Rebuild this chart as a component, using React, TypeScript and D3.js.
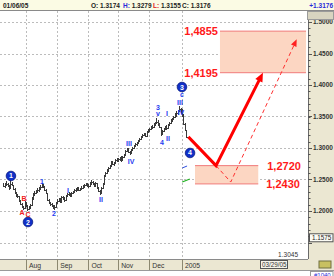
import React from 'react';
import * as d3 from 'd3';

// ---- daily EUR/USD bars (Jul 9 2004 .. Jan 6 2005) ----
const closes = [1.2397,
1.2413,1.2429,1.2397,1.2365,1.2429,
1.2413,1.2349,1.2286,1.2254,1.2238,
1.2159,1.2111,1.2063,1.2048,1.2143,
1.2079,1.2032,1.2048,1.2095,1.2190,
1.2270,1.2286,1.2317,1.2333,1.2349,
1.2381,1.2413,1.2381,1.2333,1.2286,
1.2175,1.2127,1.2111,1.2079,1.2063,
1.2063,1.2127,1.2159,1.2175,1.2143,
1.2222,1.2190,1.2175,1.2238,1.2270,
1.2270,1.2254,1.2286,1.2302,1.2333,
1.2333,1.2365,1.2333,1.2349,1.2365,
1.2381,1.2413,1.2429,1.2413,1.2397,
1.2444,1.2460,1.2429,1.2397,1.2444,
1.2365,1.2317,1.2286,1.2365,1.2429,
1.2556,1.2603,1.2635,1.2683,1.2714,
1.2778,1.2746,1.2762,1.2810,1.2794,
1.2825,1.2841,1.2810,1.2857,1.2889,
1.2952,1.2984,1.2937,1.2921,1.2968,
1.3000,1.3032,1.3063,1.3079,1.3111,
1.3143,1.3175,1.3206,1.3222,1.3190,
1.3254,1.3286,1.3302,1.3333,1.3333,
1.3365,1.3397,1.3413,1.3381,1.3333,
1.3222,1.3270,1.3302,1.3333,1.3317,
1.3365,1.3397,1.3444,1.3460,1.3492,
1.3508,1.3556,1.3587,1.3619,1.3571,
1.3524,1.3381,1.3286,1.3176];

const highs = [1.2440,
1.2445,1.2470,1.2440,1.2410,1.2490,
1.2455,1.2420,1.2360,1.2300,1.2275,
1.2240,1.2170,1.2125,1.2085,1.2160,
1.2150,1.2095,1.2075,1.2110,1.2215,
1.2290,1.2315,1.2340,1.2360,1.2380,
1.2405,1.2445,1.2430,1.2395,1.2345,
1.2280,1.2190,1.2150,1.2130,1.2100,
1.2090,1.2140,1.2185,1.2210,1.2200,
1.2245,1.2240,1.2215,1.2255,1.2290,
1.2305,1.2290,1.2300,1.2325,1.2350,
1.2360,1.2385,1.2380,1.2370,1.2390,
1.2405,1.2430,1.2450,1.2445,1.2430,
1.2465,1.2485,1.2475,1.2440,1.2460,
1.2440,1.2375,1.2330,1.2380,1.2445,
1.2570,1.2625,1.2660,1.2700,1.2735,
1.2795,1.2800,1.2785,1.2830,1.2835,
1.2845,1.2865,1.2870,1.2875,1.2910,
1.2970,1.3005,1.2995,1.2960,1.2985,
1.3020,1.3050,1.3080,1.3100,1.3130,
1.3160,1.3195,1.3225,1.3245,1.3240,
1.3275,1.3305,1.3325,1.3350,1.3370,
1.3390,1.3420,1.3470,1.3440,1.3400,
1.3340,1.3290,1.3325,1.3355,1.3360,
1.3385,1.3420,1.3460,1.3480,1.3510,
1.3560,1.3580,1.3610,1.3667,1.3640,
1.3620,1.3540,1.3400,1.3279];

const lows = [1.2375,
1.2370,1.2395,1.2380,1.2340,1.2355,
1.2390,1.2330,1.2270,1.2230,1.2205,
1.2140,1.2095,1.2040,1.2010,1.2035,
1.2060,1.2000,1.2010,1.2030,1.2080,
1.2180,1.2245,1.2265,1.2290,1.2300,
1.2330,1.2365,1.2360,1.2315,1.2265,
1.2160,1.2105,1.2085,1.2060,1.2035,
1.2020,1.2050,1.2110,1.2140,1.2120,
1.2135,1.2170,1.2150,1.2165,1.2220,
1.2240,1.2225,1.2230,1.2265,1.2280,
1.2300,1.2315,1.2310,1.2315,1.2330,
1.2345,1.2365,1.2390,1.2385,1.2370,
1.2390,1.2420,1.2405,1.2375,1.2380,
1.2345,1.2295,1.2260,1.2275,1.2355,
1.2430,1.2540,1.2590,1.2620,1.2670,
1.2710,1.2725,1.2715,1.2750,1.2770,
1.2770,1.2800,1.2785,1.2800,1.2840,
1.2880,1.2935,1.2915,1.2895,1.2910,
1.2950,1.2985,1.3015,1.3035,1.3060,
1.3090,1.3125,1.3160,1.3185,1.3170,
1.3190,1.3235,1.3260,1.3280,1.3300,
1.3315,1.3350,1.3375,1.3350,1.3310,
1.3185,1.3200,1.3250,1.3280,1.3290,
1.3300,1.3350,1.3380,1.3415,1.3440,
1.3470,1.3500,1.3530,1.3570,1.3540,
1.3500,1.3360,1.3270,1.3155];

const firstDate = new Date(2004, 6, 9);
const priceTicks = [1.5, 1.45, 1.4, 1.35, 1.3, 1.25, 1.2, 1.15];
const headerDate = '01/06/05';
const headerOHLC = [1.3174, 1.3279, 1.3155, 1.3176];
const cursorDate = '03/29/05';
const cursorPrice = 1.3045;
const lowPriceTag = 1.1575;
const chartId = '#1040';

// target zones (bar-index extent, price bounds)
const zoneHigh = [1.4855, 1.4195];
const zoneLow = [1.2720, 1.2430];
const zoneHighSpan = [152.8, 213.5];
const zoneLowSpan = [135.2, 179.8];

// projected paths [barIndex, price]
const mainProjection = [[130.5, 1.3176], [150, 1.2720], [183.1, 1.4195]];
const altProjection = [[150, 1.2720], [160.4, 1.2460], [206.9, 1.4725]];

// small indicator stubs at the end of the data
const blueStub = [[126.2, 1.2683], [129.6, 1.2714]];
const greenStub = [[126.2, 1.2460], [131.5, 1.2508]];

// Elliott wave labels [barIndex, price, text]
const waveCircles = [[5.4, 1.2556, '1'], [17.4, 1.1825, '2'], [126.0, 1.3968, '3'], [131.7, 1.2921, '4']];
const blueLabels = [
  [27.3, 1.2460, '1'], [35.8, 1.1952, '2'], [45.6, 1.2317, 'I'], [68.9, 1.2175, 'II'],
  [88.6, 1.3063, 'III'], [90.1, 1.2778, 'IV'], [109.1, 1.3635, '3'], [109.1, 1.3540, 'v'],
  [111.9, 1.3079, '4'], [115.4, 1.3540, 'I'], [116.1, 1.3143, 'II'],
  [126.0, 1.3841, 'c'], [124.6, 1.3714, 'III'], [125.3, 1.3560, 'IV'],
];
const redLabels = [[13.2, 1.1968, 'A'], [14.6, 1.2190, 'B'], [17.4, 1.1937, 'C']];

const W = 334, H = 276;
const PLOT_R = 308, PLOT_T = 11, PLOT_B = 259;
const BEIGE = '#ebe7d2';
const FONT = 'Liberation Sans, Arial, sans-serif';
const WAVE_BLUE = '#1f3cf0';

function arrowHead(p1: number[], p2: number[], len: number, wid: number) {
  const dx = p2[0] - p1[0], dy = p2[1] - p1[1];
  const d = Math.hypot(dx, dy);
  const ux = dx / d, uy = dy / d;
  const bx = p2[0] - ux * len, by = p2[1] - uy * len;
  const px = -uy * wid / 2, py = ux * wid / 2;
  return { pts: `${p2[0]},${p2[1]} ${bx + px},${by + py} ${bx - px},${by - py}`, base: [bx + ux * 1, by + uy * 1] };
}

export default function App() {
  const n = closes.length;
  const x = d3.scaleLinear().domain([0, n - 1]).range([3.3, 3.3 + (n - 1) * 1.418]);
  const y = d3.scaleLinear().domain([1.15, 1.5]).range([242.5, 22]);

  // trading dates (weekdays)
  const dates: Date[] = [];
  let d = new Date(firstDate);
  while (dates.length < n) {
    const wd = d.getDay();
    if (wd !== 0 && wd !== 6) dates.push(new Date(d));
    d = d3.timeDay.offset(d, 1);
  }
  const monthStarts: { i: number; label: string }[] = [];
  dates.forEach((dt, i) => {
    if (i > 0 && dt.getMonth() !== dates[i - 1].getMonth()) {
      monthStarts.push({ i, label: dt.getMonth() === 0 ? d3.timeFormat('%Y')(dt) : d3.timeFormat('%b')(dt) });
    }
  });

  const fmtAxis = d3.format('.4f');
  const fmtComma = (v: number) => d3.format('.4f')(v).replace('.', ',');
  const minorTicks = d3.range(1.15, 1.505, 0.01);

  const pt = (a: number[]) => [x(a[0]), y(a[1])];
  const line = d3.line<number[]>().x(p => p[0]).y(p => p[1]);

  const mainPts = mainProjection.map(pt);
  const mainHead = arrowHead(mainPts[1], mainPts[2], 9, 8);
  const mainDraw = [mainPts[0], mainPts[1], mainHead.base];
  const altPts = altProjection.map(pt);
  const altHead = arrowHead(altPts[1], altPts[2], 7, 6);
  const altDraw = [altPts[0], altPts[1], altHead.base];

  const zoneRect = (span: number[], pr: number[]) => ({
    x0: x(span[0]), x1: x(span[1]), y0: y(pr[0]), y1: y(pr[1]),
  });
  const zH = zoneRect(zoneHighSpan, zoneHigh);
  const zL = zoneRect(zoneLowSpan, zoneLow);

  const cx = (v: number) => Math.round(v) + 0.5;

  return (
    <svg width={W} height={H} style={{ position: 'absolute', left: 0, top: 0, background: '#fff' }}
      fontFamily={FONT}>
      {/* plot background */}
      <rect x={0} y={PLOT_T} width={PLOT_R} height={PLOT_B - PLOT_T} fill="#ffffff" />
      {/* grid */}
      <g stroke="#bcbcbc" strokeWidth={1} strokeDasharray="2,2">
        {priceTicks.map(p => (
          <line key={p} x1={0} x2={PLOT_R} y1={cx(y(p))} y2={cx(y(p))} />
        ))}
        {monthStarts.map(m => (
          <line key={m.i} x1={cx(x(m.i))} x2={cx(x(m.i))} y1={PLOT_T} y2={PLOT_B} />
        ))}
      </g>

      {/* target zones */}
      <rect x={zH.x0} y={zH.y0} width={zH.x1 - zH.x0} height={zH.y1 - zH.y0} fill="#fcd6c2" />
      <line x1={zH.x0} x2={zH.x1} y1={zH.y0} y2={zH.y0} stroke="#f07a7a" strokeWidth={1} />
      <line x1={zH.x0} x2={zH.x1} y1={zH.y1} y2={zH.y1} stroke="#f07a7a" strokeWidth={1} />
      <rect x={zL.x0} y={zL.y0} width={zL.x1 - zL.x0} height={zL.y1 - zL.y0} fill="#fcd6c2" />
      <line x1={zL.x0} x2={zL.x1} y1={zL.y0} y2={zL.y0} stroke="#f07a7a" strokeWidth={1} />
      <line x1={zL.x0} x2={zL.x1} y1={zL.y1} y2={zL.y1} stroke="#f07a7a" strokeWidth={1} />

      {/* price bars: high-low, open (prior close) tick left, close tick right */}
      <g stroke="#3a3a3a" strokeWidth={1} shapeRendering="crispEdges">
        {closes.map((c, i) => {
          const xi = cx(x(i));
          const o = i > 0 ? closes[i - 1] : c;
          return (
            <g key={i}>
              <line x1={xi} x2={xi} y1={y(highs[i])} y2={y(lows[i])} />
              <line x1={xi - 1} x2={xi} y1={cx(y(o))} y2={cx(y(o))} />
              <line x1={xi} x2={xi + 1} y1={cx(y(c))} y2={cx(y(c))} />
            </g>
          );
        })}
      </g>

      {/* indicator stubs */}
      <path d={line(blueStub.map(pt)) || ''} stroke="#3050e0" strokeWidth={1} fill="none" />
      <path d={line(greenStub.map(pt)) || ''} stroke="#20b020" strokeWidth={1.2} fill="none" />

      {/* projections */}
      <path d={line(altDraw) || ''} stroke="#ff3030" strokeWidth={1} strokeDasharray="4,3" fill="none" />
      <polygon points={altHead.pts} fill="#ff2020" />
      <path d={line(mainDraw) || ''} stroke="#ff0000" strokeWidth={3} fill="none" strokeLinejoin="miter" />
      <polygon points={mainHead.pts} fill="#ff0000" />

      {/* zone labels */}
      <g fill="#ff1a1a" fontSize={11} fontWeight="bold">
        <text x={zH.x0 - 2} y={zH.y0} dy="0.36em" textAnchor="end">{fmtComma(zoneHigh[0])}</text>
        <text x={zH.x0 - 2} y={zH.y1} dy="0.36em" textAnchor="end">{fmtComma(zoneHigh[1])}</text>
        <text x={zL.x1 + 9} y={zL.y0} dy="0.36em">{fmtComma(zoneLow[0])}</text>
        <text x={zL.x1 + 8} y={zL.y1} dy="0.36em">{fmtComma(zoneLow[1])}</text>
      </g>

      {/* wave labels */}
      <g fontSize={7} fontWeight="bold" textAnchor="middle">
        {blueLabels.map((l, k) => (
          <text key={k} x={x(l[0] as number)} y={y(l[1] as number)} dy="0.35em" fill={WAVE_BLUE}>{l[2]}</text>
        ))}
        {redLabels.map((l, k) => (
          <text key={k} x={x(l[0] as number)} y={y(l[1] as number)} dy="0.35em" fill="#f02020">{l[2]}</text>
        ))}
      </g>
      {waveCircles.map((c, k) => (
        <g key={k}>
          <circle cx={x(c[0] as number)} cy={y(c[1] as number)} r={4.8} fill="#1030c8" stroke="#0a1a80" strokeWidth={0.8} />
          <text x={x(c[0] as number)} y={y(c[1] as number)} dy="0.36em" textAnchor="middle" fontSize={7}
            fontWeight="bold" fill="#ffffff">{c[2]}</text>
        </g>
      ))}

      {/* cursor price */}
      <text x={298} y={257} fontSize={6.5} fill="#333" textAnchor="end">{cursorPrice.toFixed(4)}</text>

      {/* right axis */}
      <rect x={PLOT_R} y={PLOT_T} width={W - PLOT_R} height={PLOT_B - PLOT_T} fill={BEIGE} />
      <line x1={PLOT_R + 0.5} x2={PLOT_R + 0.5} y1={PLOT_T} y2={PLOT_B} stroke="#6a6a6a" />
      <g stroke="#555" strokeWidth={1}>
        {minorTicks.map((p, k) => (
          <line key={k} x1={PLOT_R} x2={PLOT_R + 2.5} y1={cx(y(p))} y2={cx(y(p))} />
        ))}
        {priceTicks.map(p => (
          <line key={p} x1={PLOT_R} x2={PLOT_R + 4} y1={cx(y(p))} y2={cx(y(p))} />
        ))}
      </g>
      <g fontSize={6.5} fontWeight="bold" fill="#333">
        {priceTicks.filter(p => p > 1.16).map(p => (
          <text key={p} x={313} y={y(p)} dy="0.35em">{fmtAxis(p)}</text>
        ))}
      </g>
      <rect x={307.5} y={11.5} width={26} height={8} fill="#d8d4c0" stroke="#9a9a9a" />
      <rect x={309.5} y={y(lowPriceTag) - 4} width={23.5} height={8} fill="#fbfbf4" stroke="#555" />
      <text x={312} y={y(lowPriceTag)} dy="0.35em" fontSize={6.3} fill="#222">{fmtAxis(lowPriceTag)}</text>

      {/* bottom date band */}
      <rect x={0} y={PLOT_B} width={PLOT_R} height={12} fill={BEIGE} />
      <line x1={0} x2={W} y1={PLOT_B + 0.5} y2={PLOT_B + 0.5} stroke="#8a8a8a" />
      <rect x={PLOT_R} y={PLOT_B} width={W - PLOT_R} height={12} fill={BEIGE} />
      <g stroke="#8c8870">
        {monthStarts.map(m => (
          <line key={m.i} x1={cx(x(m.i))} x2={cx(x(m.i))} y1={PLOT_B} y2={PLOT_B + 11} />
        ))}
      </g>
      <g fontSize={6.8} fill="#333">
        {monthStarts.map(m => (
          <text key={m.i} x={x(m.i) + 3} y={PLOT_B + 8.5}>{m.label}</text>
        ))}
      </g>
      <rect x={260.5} y={PLOT_B + 1.5} width={27} height={8} fill="#f6f4ea" stroke="#555" />
      <text x={262} y={PLOT_B + 8} fontSize={6.3} fill="#333">{cursorDate}</text>
      <line x1={0} x2={W} y1={PLOT_B + 11.5} y2={PLOT_B + 11.5} stroke="#9a9a9a" />
      <rect x={319} y={PLOT_B + 2} width={12} height={7} fill="#c8c060" stroke="#707040" />
      <rect x={310.5} y={PLOT_B + 12.5} width={22.5} height={6} fill="#ffffff" stroke="#9a9a9a" />
      <text x={314} y={PLOT_B + 17.5} fontSize={6} fill="#2a2ad8">{chartId}</text>

      {/* header */}
      <rect x={0} y={0} width={W} height={PLOT_T} fill="#fbfbe4" />
      <line x1={0} x2={W} y1={PLOT_T - 0.5} y2={PLOT_T - 0.5} stroke="#8a8a8a" />
      <g fontSize={6.5} fontWeight="bold" fill="#222">
        <text x={3} y={8}>{headerDate}</text>
        <text x={91} y={8}>O: {fmtAxis(headerOHLC[0])}</text>
        <text x={123} y={8}><tspan fill="#2a2ad8">H:</tspan> {fmtAxis(headerOHLC[1])}</text>
        <text x={153} y={8}><tspan fill="#e02020">L:</tspan> {fmtAxis(headerOHLC[2])}</text>
        <text x={182} y={8}>C: {fmtAxis(headerOHLC[3])}</text>
        <text x={333} y={8} textAnchor="end" fill="#2a2ad8">+{fmtAxis(headerOHLC[3])}</text>
      </g>
    </svg>
  );
}
